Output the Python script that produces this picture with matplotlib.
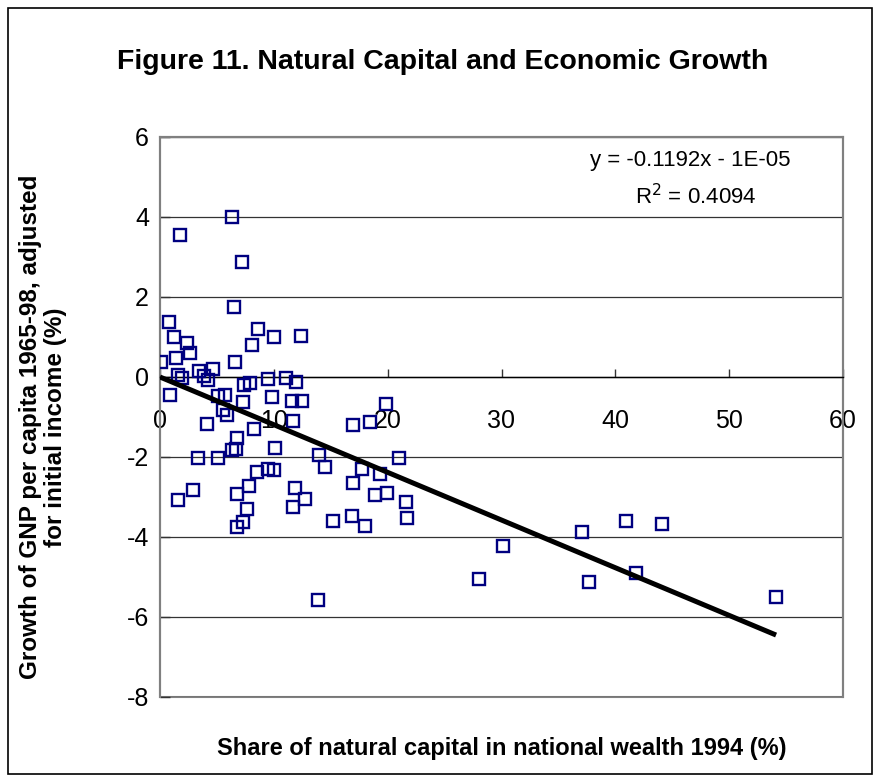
import numpy as np
import matplotlib
matplotlib.use("Agg")
import matplotlib.pyplot as plt
from matplotlib.patches import Rectangle

plt.rcParams['font.family'] = ['Liberation Sans', 'DejaVu Sans']
plt.rcParams['axes.unicode_minus'] = False

# natural capital share (%) vs adjusted GNP growth (%)
nat_share = [6.32, 1.75, 7.19, 6.49, 0.79, 8.60, 10.0, 12.37, 1.23, 2.37,
             8.07, 2.63, 1.40, 0.09, 6.58, 3.42, 4.65, 3.86, 4.21, 1.58,
             1.93, 9.47, 11.05, 11.93, 7.37, 7.89, 0.88, 5.09, 5.70, 7.28,
             9.82, 11.58, 12.46, 5.53, 5.88, 4.12, 8.25, 11.67, 6.75, 6.32,
             6.67, 10.09, 3.33, 5.09, 13.95, 14.47, 8.51, 9.47, 10.0, 2.89,
             1.58, 6.75, 7.81, 11.84, 12.72, 11.67, 7.63, 7.28, 6.75, 13.86,
             19.82, 18.42, 16.93, 20.96, 17.72, 16.93, 19.3, 18.86, 19.91, 21.58,
             15.18, 16.84, 17.98, 21.67, 30.09, 27.98, 37.11, 37.72, 40.96, 41.84,
             44.12, 54.12]
gnp_growth = [4.0, 3.55, 2.88, 1.75, 1.38, 1.20, 1.00, 1.03, 1.00, 0.85,
              0.80, 0.60, 0.48, 0.38, 0.38, 0.15, 0.20, 0.03, -0.08, 0.05,
              -0.03, -0.05, -0.03, -0.13, -0.20, -0.15, -0.45, -0.48, -0.45, -0.63,
              -0.50, -0.60, -0.60, -0.83, -0.95, -1.18, -1.30, -1.10, -1.53, -1.83,
              -1.80, -1.78, -2.03, -2.03, -1.95, -2.25, -2.38, -2.30, -2.33, -2.83,
              -3.08, -2.93, -2.73, -2.78, -3.05, -3.25, -3.30, -3.63, -3.75, -5.58,
              -0.68, -1.13, -1.20, -2.03, -2.30, -2.65, -2.43, -2.95, -2.90, -3.13,
              -3.60, -3.48, -3.73, -3.53, -4.23, -5.05, -3.88, -5.13, -3.60, -4.90,
              -3.68, -5.50]

slope = -0.1192
intercept = -1e-05
r2 = 0.4094

x_ticks = [0, 10, 20, 30, 40, 50, 60]
y_ticks = [-8, -6, -4, -2, 0, 2, 4, 6]

fig = plt.figure(figsize=(8.75, 7.8), dpi=100)
ax = fig.add_axes([160/875, 1 - 697/780, 683/875, 560/780])

# chart border
fig.patches.append(Rectangle((8/875, 6/780), 864/875, 766/780, transform=fig.transFigure,
                             fill=False, edgecolor='black', linewidth=1.2))

ax.set_xlim(0, 60)
ax.set_ylim(-8, 6)
for gy in y_ticks:
    ax.axhline(gy, color='#333333', linewidth=0.9, zorder=1)

ax.plot(nat_share, gnp_growth, linestyle='none', marker='s', markersize=8.5,
        markerfacecolor='none', markeredgecolor='#000080', markeredgewidth=1.7, zorder=3)

xs = np.array([0, max(nat_share)])
ax.plot(xs, slope * xs + intercept, color='black', linewidth=3.6, zorder=4,
        solid_capstyle='butt')

# plot area frame, x axis crossing at y = 0
for s in ['top', 'left', 'right']:
    ax.spines[s].set_color('#808080')
    ax.spines[s].set_linewidth(1.5)
ax.spines['bottom'].set_position(('data', 0))
ax.spines['bottom'].set_color('black')
ax.spines['bottom'].set_linewidth(1.0)
ax.add_patch(Rectangle((0, 0), 1, 1, transform=ax.transAxes, fill=False,
                       edgecolor='#808080', linewidth=1.5, clip_on=False, zorder=0))

ax.set_xticks(x_ticks)
ax.set_yticks(y_ticks)
ax.tick_params(axis='x', direction='in', length=6, width=1, color='#333333',
               labelsize=18, pad=23)
ax.tick_params(axis='y', direction='in', length=7, width=1, color='#333333',
               labelsize=18, pad=8)

ax.text(0.776, 0.958, 'y = -0.1192x - 1E-05', transform=ax.transAxes,
        ha='center', va='center', fontsize=16)
ax.text(0.785, 0.893, 'R$^2$ = 0.4094', transform=ax.transAxes,
        ha='center', va='center', fontsize=16)

fig.text(0.506, 1 - 62/780, 'Figure 11. Natural Capital and Economic Growth',
         ha='center', va='center', fontsize=20.5, fontweight='bold')
fig.text(502/875, 1 - 748/780, 'Share of natural capital in national wealth 1994 (%)',
         ha='center', va='center', fontsize=17, fontweight='bold')
fig.text(43/875, 1 - 427/780, 'Growth of GNP per capita 1965-98, adjusted\nfor initial income (%)',
         ha='center', va='center', rotation=90, fontsize=17.5, fontweight='bold',
         linespacing=1.15)

fig.savefig('out.png', dpi=100)
